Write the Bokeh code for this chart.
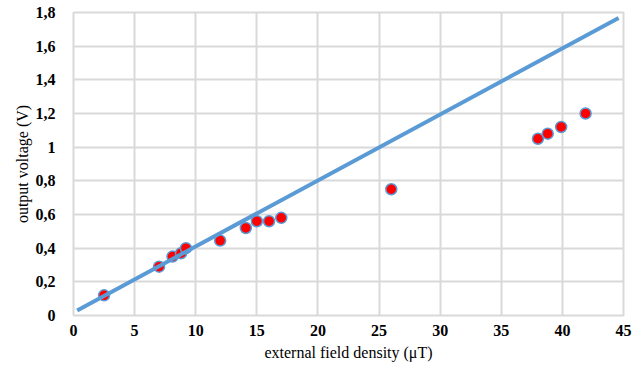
from bokeh.plotting import figure
from bokeh.models import Range1d, FixedTicker, CustomJSTickFormatter
from bokeh.embed import file_html
from bokeh.resources import INLINE

# Data
field_ut = [2.5, 7.0, 8.1, 8.8, 9.2, 12.0, 14.1, 15.0, 16.0, 17.0, 26.0, 38.0, 38.8, 39.9, 41.9]
voltage_v = [0.12, 0.29, 0.35, 0.37, 0.40, 0.445, 0.52, 0.56, 0.56, 0.58, 0.75, 1.05, 1.08, 1.12, 1.20]

trend_x = [0.3, 44.6]
trend_y = [0.03, 1.767]

x_ticks = [0, 5, 10, 15, 20, 25, 30, 35, 40, 45]
y_ticks = [0, 0.2, 0.4, 0.6, 0.8, 1.0, 1.2, 1.4, 1.6, 1.8]

p = figure(width=644, height=372, output_backend="svg", toolbar_location=None,
           x_range=Range1d(0, 45), y_range=Range1d(0, 1.8),
           min_border_left=73, min_border_right=21, min_border_top=12, min_border_bottom=57)

p.background_fill_color = "white"
p.border_fill_color = "white"
p.outline_line_color = "#d9d9d9"
p.outline_line_width = 2

p.xaxis.ticker = FixedTicker(ticks=x_ticks)
p.yaxis.ticker = FixedTicker(ticks=y_ticks)
p.yaxis.formatter = CustomJSTickFormatter(
    code="return tick.toFixed(1).replace('.', ',').replace(',0', '');")

SERIF = "'Liberation Serif', 'Times New Roman', serif"

for ax in (p.xaxis[0], p.yaxis[0]):
    ax.axis_line_color = None
    ax.major_tick_line_color = None
    ax.minor_tick_line_color = None
    ax.major_label_text_font = SERIF
    ax.major_label_text_font_style = "bold"
    ax.major_label_text_font_size = "16px"
    ax.major_label_text_color = "#000000"
    ax.axis_label_text_font = SERIF
    ax.axis_label_text_font_style = "normal"
    ax.axis_label_text_font_size = "16px"
    ax.axis_label_text_color = "#000000"

p.xaxis.axis_label = "external field density (μT)"
p.yaxis.axis_label = "output voltage (V)"
p.xaxis.major_label_standoff = 3
p.yaxis.major_label_standoff = 12
p.xaxis.axis_label_standoff = 5
p.yaxis.axis_label_standoff = 2

p.xgrid.ticker = FixedTicker(ticks=x_ticks)
p.ygrid.ticker = FixedTicker(ticks=y_ticks)
p.xgrid.grid_line_color = "#d9d9d9"
p.ygrid.grid_line_color = "#d9d9d9"
p.xgrid.grid_line_width = 2
p.ygrid.grid_line_width = 2

p.scatter(field_ut, voltage_v, size=11, fill_color="#ff0000",
          line_color="#5b9bd5", line_width=1.5)
p.line(trend_x, trend_y, line_color="#5b9bd5", line_width=4)

open("out.html", "w").write(file_html(p, INLINE))
